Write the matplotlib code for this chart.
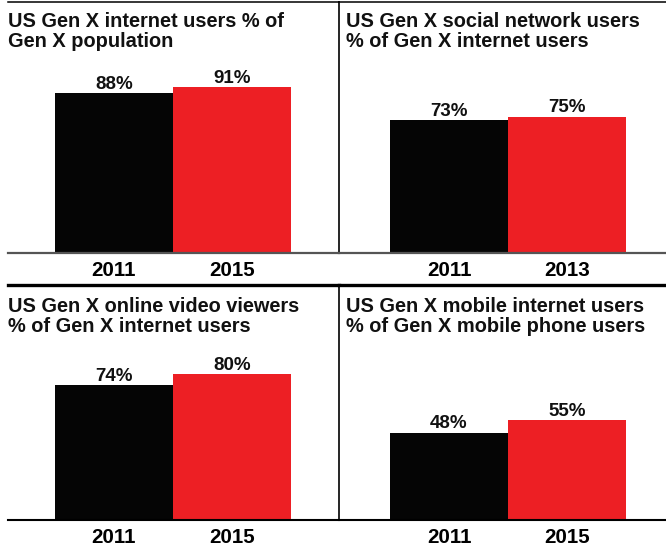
import matplotlib
matplotlib.use("Agg")
import matplotlib.pyplot as plt

# panel data
titles = [
    ["US Gen X internet users % of", "Gen X population"],
    ["US Gen X social network users", "% of Gen X internet users"],
    ["US Gen X online video viewers", "% of Gen X internet users"],
    ["US Gen X mobile internet users", "% of Gen X mobile phone users"],
]
years = [
    ["2011", "2015"],
    ["2011", "2013"],
    ["2011", "2015"],
    ["2011", "2015"],
]
values = [
    [88, 91],
    [73, 75],
    [74, 80],
    [48, 55],
]
bar_colors = ["#050505", "#ED1F24"]

plt.rcParams["font.family"] = ["Liberation Sans", "DejaVu Sans"]
title_fs, val_fs, tick_fs = 14.4, 13.5, 14.8

W, H = 666, 548
fig = plt.figure(figsize=(W / 100, H / 100), dpi=100)

# panel boxes in pixels: left, right, top, baseline
panels = [
    (8, 339, 2, 253),
    (339, 666, 2, 253),
    (8, 339, 285, 520),
    (339, 666, 285, 520),
]
bar_left = [55, 390, 55, 390]
bar_w = 118
px_per_pct = 1.82

for i, (l, r, t, b) in enumerate(panels):
    ax = fig.add_axes([l / W, (H - b) / H, (r - l) / W, (b - t) / H])
    c0 = bar_left[i] + bar_w / 2
    ax.set_xlim((l - c0) / bar_w, (r - c0) / bar_w)
    ax.set_ylim(0, (b - t) / px_per_pct)
    ax.bar([0, 1], values[i], width=1.0, color=bar_colors)
    for j, v in enumerate(values[i]):
        ax.text(j, v + 2.3, f"{v}%", ha="center", va="baseline",
                fontsize=val_fs, fontweight="bold", color="#111111")
    ax.set_xticks([0, 1])
    ax.set_xticklabels(years[i], fontsize=tick_fs, fontweight="bold")
    ax.tick_params(axis="x", length=0, pad=6)
    ax.set_yticks([])
    ax.spines["right"].set_visible(False)
    if i % 2 == 0:
        ax.spines["left"].set_visible(False)
    else:
        ax.spines["left"].set_linewidth(1.2)
    if i < 2:
        ax.spines["top"].set_linewidth(1.1)
        ax.spines["bottom"].set_color("#555555")
        ax.spines["bottom"].set_linewidth(1.6)
    else:
        ax.spines["top"].set_linewidth(2.4)
        ax.spines["bottom"].set_linewidth(1.5)
    # title
    tx = 8 if i % 2 == 0 else 346
    ty = 27 if i < 2 else 312
    for k, line in enumerate(titles[i]):
        fig.text(tx / W, (H - ty - 20 * k) / H, line, ha="left", va="baseline",
                 fontsize=title_fs, fontweight="bold", color="#111111")

fig.savefig("out.png", dpi=100)
